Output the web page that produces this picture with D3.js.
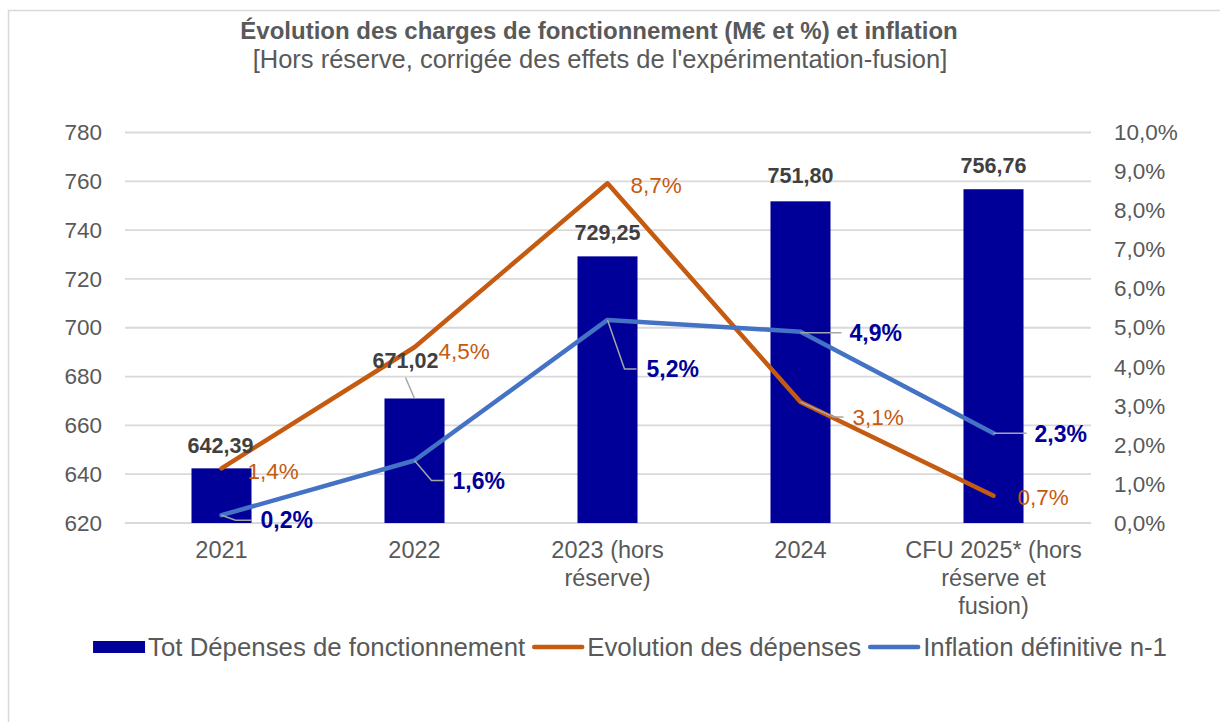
<!DOCTYPE html>
<html>
<head>
<meta charset="utf-8">
<script src="https://cdn.jsdelivr.net/npm/d3@7"></script>
<style>
  html, body { margin: 0; padding: 0; background: #ffffff; }
  svg { display: block; font-family: "Liberation Sans", Arial, sans-serif; }
</style>
</head>
<body>
<svg id="chart" width="1220" height="722"></svg>
<script>
// ---- Data ----
const categories = ["2021", "2022", "2023 (hors réserve)", "2024", "CFU 2025* (hors réserve et fusion)"];
const tickLabelLines = [["2021"], ["2022"], ["2023 (hors", "réserve)"], ["2024"], ["CFU 2025* (hors", "réserve et", "fusion)"]];
const depenses = [642.39, 671.02, 729.25, 751.80, 756.76];      // M€
const evolution = [1.4, 4.5, 8.7, 3.1, 0.7];                   // %
const inflation = [0.2, 1.6, 5.2, 4.9, 2.3];                   // %
const leftTicks = [620, 640, 660, 680, 700, 720, 740, 760, 780];
const rightTicks = [0, 1, 2, 3, 4, 5, 6, 7, 8, 9, 10];
const seriesNames = ["Tot Dépenses de fonctionnement", "Evolution des dépenses", "Inflation définitive n-1"];
const titleText = "Évolution des charges de fonctionnement (M€ et %) et inflation";
const subtitleText = "[Hors réserve, corrigée des effets de l'expérimentation-fusion]";

// ---- Styles / layout ----
const C = { bar: "#000099", orange: "#C55A11", blue: "#4472C4", grid: "#d9d9d9", text: "#595959", barLabel: "#404040", leader: "#a6a6a6" };
const plot = { left: 125, right: 1090, top: 132.5, bottom: 523 };
const FF = "Liberation Sans, Arial, sans-serif";

const fr = d3.formatLocale({ decimal: ",", thousands: " ", grouping: [3], currency: ["", " €"] });
const fmt2 = fr.format(".2f");
const fmt1 = fr.format(".1f");

const svg = d3.select("#chart");

// outer border
svg.append("rect").attr("x", 8.5).attr("y", 10.5).attr("width", 1230).attr("height", 730)
  .attr("fill", "#fff").attr("stroke", "#d9d9d9").attr("stroke-width", 1.5);

// scales
const x = d3.scaleBand().domain(categories).range([plot.left, plot.right]).paddingInner(0.689).paddingOuter(0.3445);
const yL = d3.scaleLinear().domain([620, 780]).range([plot.bottom, plot.top]);
const yR = d3.scaleLinear().domain([0, 10]).range([plot.bottom, plot.top]);
const cx = c => x(c) + x.bandwidth() / 2;

// title
svg.append("text").attr("x", 599).attr("y", 39).attr("text-anchor", "middle")
  .attr("font-size", 24).attr("font-weight", "bold").attr("fill", C.text).text(titleText);
svg.append("text").attr("x", 600).attr("y", 68).attr("text-anchor", "middle")
  .attr("font-size", 25.5).attr("fill", C.text).text(subtitleText);

// gridlines
svg.append("g").selectAll("line").data(leftTicks).join("line")
  .attr("x1", plot.left).attr("x2", plot.right + 1)
  .attr("y1", d => yL(d)).attr("y2", d => yL(d))
  .attr("stroke", C.grid).attr("stroke-width", 1.8);

// left axis
const axL = svg.append("g").attr("transform", `translate(${plot.left},0)`)
  .call(d3.axisLeft(yL).tickValues(leftTicks).tickSize(0).tickPadding(23).tickFormat(d3.format("d")));
axL.select(".domain").remove();
axL.selectAll("text").attr("font-size", 22.5).attr("fill", C.text).attr("font-family", FF);

// right axis
const axR = svg.append("g").attr("transform", `translate(${plot.right},0)`)
  .call(d3.axisRight(yR).tickValues(rightTicks).tickSize(0).tickPadding(24).tickFormat(d => fmt1(d) + "%"));
axR.select(".domain").remove();
axR.selectAll("text").attr("font-size", 22.5).attr("fill", C.text).attr("font-family", FF);

// x axis labels
const axX = svg.append("g").attr("transform", `translate(0,${plot.bottom})`)
  .call(d3.axisBottom(x).tickSize(0).tickFormat(""));
axX.select(".domain").remove();
axX.selectAll(".tick").each(function (d, i) {
  const t = d3.select(this).append("text").attr("fill", C.text).attr("font-size", 23.5)
    .attr("text-anchor", "middle").attr("font-family", FF);
  tickLabelLines[i].forEach((ln, j) => t.append("tspan").attr("x", 0).attr("y", 35 + j * 28).text(ln));
});

// bars
svg.append("g").selectAll("rect").data(depenses).join("rect")
  .attr("x", (d, i) => x(categories[i])).attr("width", x.bandwidth())
  .attr("y", d => yL(d)).attr("height", d => yL(620) - yL(d))
  .attr("fill", C.bar);

// lines
const lineGen = d3.line().x((d, i) => cx(categories[i])).y(d => yR(d));
svg.append("path").datum(evolution).attr("d", lineGen).attr("fill", "none")
  .attr("stroke", C.orange).attr("stroke-width", 4.5).attr("stroke-linecap", "round").attr("stroke-linejoin", "round");
svg.append("path").datum(inflation).attr("d", lineGen).attr("fill", "none")
  .attr("stroke", C.blue).attr("stroke-width", 4.5).attr("stroke-linecap", "round").attr("stroke-linejoin", "round");

// ---- Data labels ----
// label offsets (layout): [dx, dy] relative to anchor point, leader: list of relative points
const barLabelOff = [[-1, -15], [-9, -30], [0, -16], [0, -18], [0, -16]];
const barLeader = [null, [[-9, -21], [0, 0]], null, null, null];
const orangeOff = [[26, 11], [24, 12], [23, 10], [52, 23], [24, 9]];
const orangeLeader = [null, null, null, [[0, 0], [33, 15], [43, 15]], null];
const blueOff = [[39, 13], [38, 28], [39, 57], [49, 9], [41, 9]];
const blueLeader = [[[0, 0], [14, 5], [30, 5]], [[0, 0], [17, 20], [29, 20]], [[0, 0], [17, 49], [29, 49]], [[0, 1], [41, 1]], [[0, 0], [33, 0]]];

const leaderLine = d3.line();
function drawLeader(px, py, pts) {
  if (!pts) return;
  svg.append("path").attr("d", leaderLine(pts.map(p => [px + p[0], py + p[1]])))
    .attr("fill", "none").attr("stroke", C.leader).attr("stroke-width", 1.5);
}

const labels = svg.append("g");
depenses.forEach((d, i) => {
  const px = cx(categories[i]), py = yL(d);
  drawLeader(px, py, barLeader[i]);
  labels.append("text").attr("x", px + barLabelOff[i][0]).attr("y", py + barLabelOff[i][1])
    .attr("text-anchor", "middle").attr("font-size", 21.5).attr("font-weight", "bold")
    .attr("fill", C.barLabel).text(fmt2(d));
});
evolution.forEach((d, i) => {
  const px = cx(categories[i]), py = yR(d);
  drawLeader(px, py, orangeLeader[i]);
  labels.append("text").attr("x", px + orangeOff[i][0]).attr("y", py + orangeOff[i][1])
    .attr("font-size", 22.5).attr("fill", C.orange).text(fmt1(d) + "%");
});
inflation.forEach((d, i) => {
  const px = cx(categories[i]), py = yR(d);
  drawLeader(px, py, blueLeader[i]);
  labels.append("text").attr("x", px + blueOff[i][0]).attr("y", py + blueOff[i][1])
    .attr("font-size", 23).attr("font-weight", "bold").attr("fill", C.bar).text(fmt1(d) + "%");
});

// ---- Legend ----
const legend = svg.append("g");
const symW = 52, gapA = 3, gapB = 7, legY = 647;
const items = seriesNames.map((name, i) => {
  const g = legend.append("g");
  const t = g.append("text").attr("y", legY + 9).attr("font-size", 25.8).attr("fill", C.text).text(name);
  return { g, t, w: t.node().getComputedTextLength(), i };
});
const total = items.reduce((s, it) => s + symW + gapA + it.w, 0) + gapB * (items.length - 1);
let lx = 630 - total / 2;
items.forEach(it => {
  if (it.i === 0) {
    it.g.append("rect").attr("x", lx).attr("y", legY - 6).attr("width", symW).attr("height", 12).attr("fill", C.bar);
  } else {
    it.g.append("line").attr("x1", lx + 2).attr("x2", lx + symW - 2).attr("y1", legY).attr("y2", legY)
      .attr("stroke", it.i === 1 ? C.orange : C.blue).attr("stroke-width", 4.5).attr("stroke-linecap", "round");
  }
  it.t.attr("x", lx + symW + gapA);
  lx += symW + gapA + it.w + gapB;
});
</script>
</body>
</html>
